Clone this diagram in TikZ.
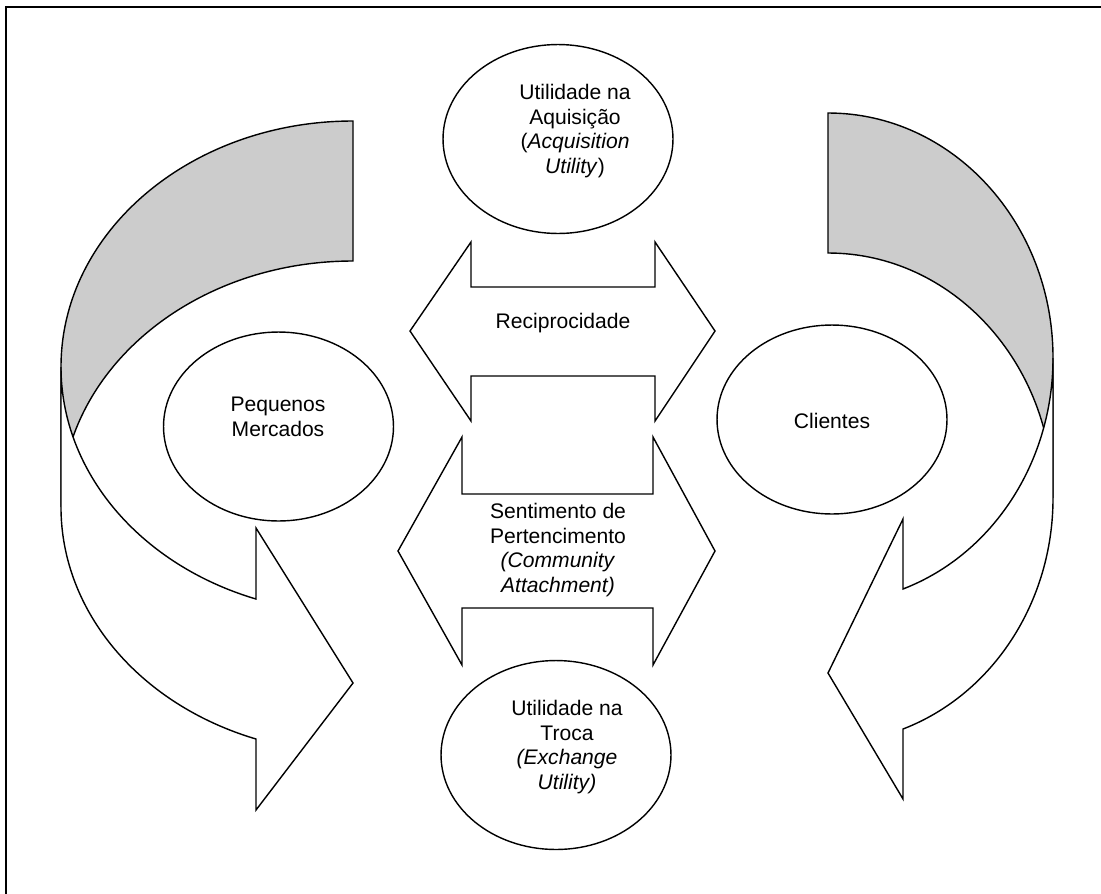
\documentclass[tikz,border=0pt]{standalone}
\usepackage{fontspec}
\setmainfont{Liberation Sans}
\usetikzlibrary{shapes.geometric}
\definecolor{bandgray}{RGB}{204,204,204}
\begin{document}
\begin{tikzpicture}[x=0.02cm, y=-0.02cm, line join=miter,
  outl/.style={draw=black, line width=0.8pt},
  ell/.style={ellipse, draw=black, line width=0.8pt, fill=white, inner sep=0pt,
              minimum width=4.6cm, minimum height=3.78cm},
  txt/.style={align=center, font=\fontsize{12}{13.9}\selectfont, inner sep=0pt}]

\useasboundingbox (0,0) rectangle (1101,893);

% frame (only top and left edges visible)
\draw[line width=1pt] (6,900) -- (6,7) -- (1110,7);

% left curved arrow: back band
\draw[outl, fill=bandgray] (353,121)
  arc[start angle=270, end angle=180, x radius=292, y radius=246]
  -- (61,507)
  arc[start angle=180, end angle=270, x radius=292, y radius=246]
  -- cycle;
% left curved arrow: front with head
\draw[outl, fill=white] (61,367)
  arc[start angle=180, end angle=109.4, x radius=292, y radius=246]
  -- (256,528) -- (353,683) -- (256,810) -- (256,739)
  arc[start angle=109.4, end angle=180, x radius=292, y radius=246]
  -- cycle;

% right curved arrow: back band
\draw[outl, fill=bandgray] (828,113)
  arc[start angle=270, end angle=360, x radius=225, y radius=245]
  -- (1053,498)
  arc[start angle=0, end angle=-90, x radius=225, y radius=245]
  -- cycle;
% right curved arrow: front with head
\draw[outl, fill=white] (1053,358)
  arc[start angle=0, end angle=70.53, x radius=225, y radius=245]
  -- (903,519) -- (828,673) -- (903,799) -- (903,729)
  arc[start angle=70.53, end angle=0, x radius=225, y radius=245]
  -- cycle;

% double arrows
\draw[outl, fill=white] (410,331) -- (471,242) -- (471,287) -- (655,287) -- (655,242)
  -- (715,331) -- (655,421) -- (655,376) -- (471,376) -- (471,421) -- cycle;
\draw[outl, fill=white] (398,551) -- (462,437) -- (462,494) -- (653,494) -- (653,437)
  -- (715,551) -- (653,665) -- (653,608) -- (462,608) -- (462,665) -- cycle;

% ellipses
\node[ell] (acq) at (558,139) {};
\node[ell] (exch) at (556,755) {};
\node[ell] (peq) at (278.5,426.5) {};
\node[ell] (cli) at (832,419.5) {};

% texts
\node[txt] (acqt) at (575,131) {Utilidade na\\Aquisição\\(\textit{Acquisition}\\\textit{Utility})};
\node[txt] (recipt) at (563,323) {Reciprocidade};
\node[txt] (sentt) at (558,550) {Sentimento de\\Pertencimento\\\textit{(Community}\\\textit{Attachment)}};
\node[txt] (excht) at (567,747) {Utilidade na\\Troca\\\textit{(Exchange}\\\textit{Utility)}};
\node[txt] (peqt) at (278,417) {Pequenos\\Mercados};
\node[txt] (clit) at (832,421) {Clientes};
\end{tikzpicture}
\end{document}
